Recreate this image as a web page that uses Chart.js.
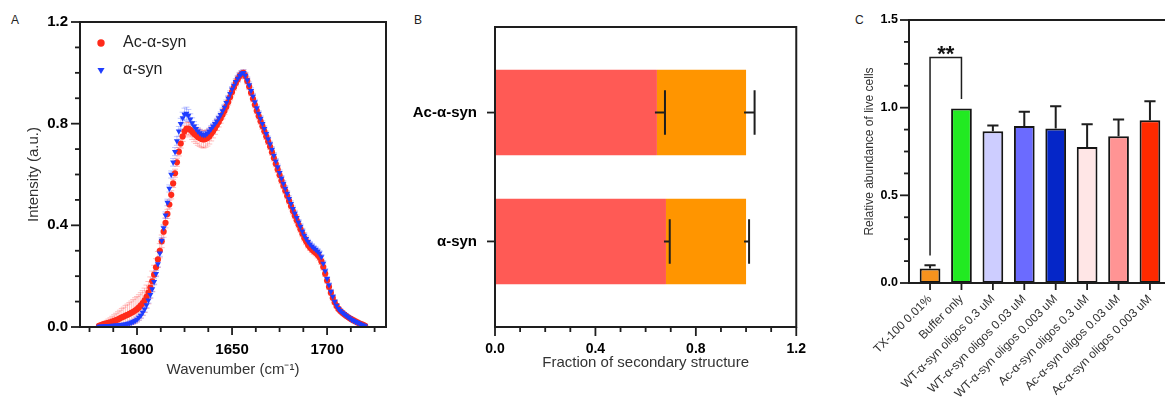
<!DOCTYPE html>
<html>
<head>
<meta charset="utf-8">
<script src="https://cdn.jsdelivr.net/npm/chart.js@4.4.1/dist/chart.umd.min.js"></script>
<style>
  html, body { margin: 0; padding: 0; background: #fff; overflow: hidden; }
  body { width: 1165px; height: 405px; position: relative; font-family: 'Liberation Sans', Arial, sans-serif; }
  .panel { position: absolute; top: 0; }
  .tag { position: absolute; top: 13px; font-size: 12px; color: #222; }
</style>
</head>
<body>
<div class="tag" style="left:11px">A</div>
<div class="tag" style="left:414px">B</div>
<div class="tag" style="left:855px">C</div>
<canvas id="chartA" class="panel" style="left:0" width="400" height="405"></canvas>
<canvas id="chartB" class="panel" style="left:400px" width="420" height="405"></canvas>
<canvas id="chartC" class="panel" style="left:820px" width="360" height="405"></canvas>
<script>
const FONT = "'Liberation Sans', Arial, Helvetica, sans-serif";
const INK = '#1e1e1e';

/* A - spectra, one point per cm-1 from 1580 to 1720 */
const wnStart = 1580;
const acSyn = [
  0.005,0.007,0.010,0.012,0.014,0.016,0.018,0.021,0.024,0.027,
  0.030,0.034,0.038,0.041,0.045,0.048,0.052,0.056,0.060,0.065,
  0.070,0.077,0.085,0.094,0.105,0.119,0.135,0.155,0.180,0.206,
  0.235,0.266,0.300,0.337,0.375,0.410,0.445,0.482,0.520,0.565,
  0.605,0.648,0.690,0.722,0.750,0.770,0.780,0.781,0.776,0.768,
  0.760,0.754,0.748,0.744,0.740,0.738,0.740,0.744,0.750,0.760,
  0.770,0.782,0.795,0.807,0.820,0.835,0.850,0.867,0.885,0.905,
  0.925,0.943,0.960,0.975,0.988,0.996,1.000,0.988,0.968,0.946,
  0.922,0.898,0.874,0.851,0.830,0.810,0.790,0.770,0.750,0.730,
  0.710,0.688,0.665,0.642,0.620,0.598,0.576,0.556,0.536,0.516,
  0.496,0.476,0.456,0.438,0.420,0.402,0.385,0.367,0.350,0.336,
  0.323,0.313,0.305,0.298,0.292,0.284,0.274,0.258,0.236,0.210,
  0.183,0.158,0.135,0.115,0.097,0.083,0.071,0.063,0.056,0.050,
  0.044,0.039,0.034,0.030,0.026,0.022,0.018,0.014,0.011,0.008,
  0.005
];
const acSynErr = [
  0.004,0.006,0.008,0.010,0.012,0.015,0.018,0.021,0.024,0.027,
  0.030,0.032,0.035,0.037,0.040,0.042,0.044,0.046,0.048,0.050,
  0.050,0.050,0.050,0.049,0.048,0.046,0.044,0.042,0.040,0.037,
  0.034,0.031,0.028,0.025,0.022,0.020,0.018,0.017,0.016,0.016,
  0.016,0.016,0.017,0.018,0.020,0.022,0.024,0.026,0.028,0.030,
  0.031,0.032,0.033,0.034,0.034,0.034,0.033,0.032,0.030,0.028,
  0.026,0.024,0.022,0.020,0.018,0.016,0.014,0.013,0.012,0.012,
  0.012,0.012,0.012,0.012,0.012,0.012,0.012,0.012,0.012,0.012,
  0.012,0.012,0.012,0.012,0.012,0.012,0.012,0.012,0.012,0.012,
  0.012,0.012,0.012,0.012,0.012,0.012,0.012,0.012,0.012,0.012,
  0.012,0.012,0.012,0.012,0.012,0.012,0.012,0.012,0.012,0.012,
  0.012,0.012,0.012,0.012,0.012,0.012,0.012,0.012,0.012,0.011,
  0.010,0.010,0.009,0.009,0.008,0.008,0.007,0.007,0.006,0.006,
  0.005,0.005,0.005,0.004,0.004,0.004,0.003,0.003,0.003,0.003,
  0.003
];
const aSyn = [
  0.002,0.003,0.003,0.004,0.004,0.005,0.005,0.006,0.006,0.007,
  0.007,0.008,0.009,0.010,0.011,0.013,0.015,0.018,0.021,0.025,
  0.030,0.037,0.045,0.057,0.070,0.087,0.105,0.127,0.150,0.178,
  0.210,0.248,0.290,0.340,0.390,0.440,0.490,0.545,0.600,0.648,
  0.690,0.732,0.770,0.800,0.822,0.836,0.840,0.832,0.817,0.803,
  0.790,0.780,0.770,0.763,0.758,0.755,0.756,0.762,0.770,0.780,
  0.790,0.800,0.810,0.822,0.835,0.850,0.865,0.882,0.900,0.918,
  0.935,0.950,0.965,0.978,0.990,0.997,1.000,0.990,0.972,0.952,
  0.930,0.908,0.885,0.862,0.840,0.820,0.800,0.780,0.760,0.740,
  0.720,0.698,0.675,0.652,0.630,0.607,0.585,0.565,0.545,0.525,
  0.505,0.485,0.465,0.448,0.430,0.412,0.395,0.377,0.360,0.347,
  0.335,0.326,0.318,0.311,0.305,0.298,0.290,0.275,0.250,0.220,
  0.190,0.165,0.140,0.120,0.100,0.085,0.072,0.064,0.057,0.051,
  0.045,0.039,0.034,0.029,0.025,0.021,0.018,0.014,0.010,0.007,
  0.004
];
const aSynErr = [
  0.003,0.003,0.003,0.003,0.004,0.004,0.004,0.004,0.005,0.005,
  0.005,0.005,0.006,0.006,0.006,0.007,0.007,0.008,0.008,0.009,
  0.009,0.010,0.010,0.010,0.011,0.011,0.011,0.012,0.012,0.012,
  0.012,0.012,0.012,0.012,0.012,0.013,0.013,0.014,0.014,0.015,
  0.016,0.017,0.019,0.021,0.023,0.025,0.025,0.024,0.022,0.020,
  0.018,0.016,0.014,0.013,0.012,0.012,0.012,0.012,0.012,0.012,
  0.011,0.011,0.011,0.011,0.011,0.011,0.011,0.011,0.011,0.011,
  0.011,0.011,0.012,0.012,0.012,0.012,0.012,0.012,0.012,0.012,
  0.011,0.011,0.011,0.011,0.011,0.011,0.011,0.011,0.011,0.011,
  0.011,0.011,0.011,0.011,0.011,0.011,0.011,0.011,0.011,0.011,
  0.011,0.011,0.011,0.011,0.011,0.011,0.011,0.011,0.011,0.011,
  0.010,0.010,0.010,0.010,0.010,0.010,0.010,0.010,0.010,0.010,
  0.009,0.009,0.008,0.008,0.007,0.007,0.006,0.006,0.005,0.005,
  0.004,0.004,0.004,0.004,0.003,0.003,0.003,0.003,0.003,0.003,
  0.003
];
const aXTicks = [1575, 1587.5, 1600, 1612.5, 1625, 1637.5, 1650, 1662.5, 1675, 1687.5, 1700, 1712.5, 1725];
const aXLabels = [1600, 1650, 1700];
const aYTicks = [0, 0.1, 0.2, 0.3, 0.4, 0.5, 0.6, 0.7, 0.8, 0.9, 1.0, 1.1, 1.2];
const aYLabels = [0, 0.4, 0.8, 1.2];

/* B - fraction of secondary structure */
const bCats = ['Ac-α-syn', 'α-syn'];
const bPart1 = [0.645, 0.681];
const bPart1Err = [0.032, 0.015];
const bPart2 = [0.355, 0.319];
const bPart2Err = [0.034, 0.012];
const bXTicks = [0, 0.1, 0.2, 0.3, 0.4, 0.5, 0.6, 0.7, 0.8, 0.9, 1.0, 1.1, 1.2];
const bXLabels = [0, 0.4, 0.8, 1.2];

/* C - cell viability */
const cLabels = ['TX-100 0.01%', 'Buffer only', 'WT-α-syn oligos 0.3 uM', 'WT-α-syn oligos 0.03 uM',
  'WT-α-syn oligos 0.003 uM', 'Ac-α-syn oligos 0.3 uM', 'Ac-α-syn oligos 0.03 uM', 'Ac-α-syn oligos 0.003 uM'];
const cMeans = [0.082, 0.995, 0.865, 0.896, 0.881, 0.776, 0.837, 0.928];
const cErr = [0.019, 0, 0.033, 0.080, 0.127, 0.129, 0.095, 0.108];
const cColors = ['#F7931E', '#22EA22', '#CDCDFF', '#6B6BFF', '#0526C8', '#FFE6E6', '#FF9494', '#FF2A00'];
const cYTicks = [0, 0.125, 0.25, 0.375, 0.5, 0.625, 0.75, 0.875, 1, 1.125, 1.25, 1.375, 1.5];
const cYLabels = [0, 0.5, 1, 1.5];
const cSig = { from: 0, to: 1, y: 1.286, leftEnd: 0.157, rightEnd: 1.05, text: '**' };

Chart.defaults.font.family = FONT;
Chart.defaults.color = INK;

/* shared helpers */
function tickMarks(axes) {
  return {
    id: 'tickMarks',
    afterDraw(chart) {
      const ctx = chart.ctx;
      ctx.save();
      ctx.strokeStyle = INK;
      ctx.lineWidth = 1.8;
      axes.forEach(a => {
        const s = chart.scales[a.id];
        s.ticks.forEach(t => {
          const len = a.major.includes(t.value) ? a.long : a.short;
          const p = s.getPixelForValue(t.value);
          ctx.beginPath();
          if (s.isHorizontal()) { ctx.moveTo(p, s.top); ctx.lineTo(p, s.top + len); }
          else { ctx.moveTo(s.right, p); ctx.lineTo(s.right - len, p); }
          ctx.stroke();
        });
      });
      ctx.restore();
    }
  };
}

function frame(sides) {
  return {
    id: 'frame',
    afterDraw(chart) {
      const { ctx, chartArea: a } = chart;
      ctx.save();
      ctx.strokeStyle = INK;
      ctx.lineWidth = 2;
      ctx.lineCap = 'square';
      ctx.beginPath();
      if (sides.includes('l')) { ctx.moveTo(a.left, a.top); ctx.lineTo(a.left, a.bottom); }
      if (sides.includes('b')) { ctx.moveTo(a.left, a.bottom); ctx.lineTo(a.right, a.bottom); }
      if (sides.includes('t')) { ctx.moveTo(a.left, a.top); ctx.lineTo(a.right, a.top); }
      if (sides.includes('r')) { ctx.moveTo(a.right, a.top); ctx.lineTo(a.right, a.bottom); }
      ctx.stroke();
      ctx.restore();
    }
  };
}

const baseOptions = {
  responsive: false,
  animation: false,
  devicePixelRatio: 1,
  events: [],
  plugins: { legend: { display: false }, tooltip: { enabled: false } }
};

/* ---------- A ---------- */
const RED = '#FF2A1A', BLUE = '#1F3DFF';
const spectrumErrors = {
  id: 'spectrumErrors',
  beforeDatasetsDraw(chart) {
    const { ctx, chartArea: a, scales: { x, y } } = chart;
    ctx.save();
    ctx.beginPath();
    ctx.rect(a.left, a.top, a.right - a.left, a.bottom - a.top);
    ctx.clip();
    [[acSyn, acSynErr, 'rgba(255,70,70,0.35)'], [aSyn, aSynErr, 'rgba(70,90,255,0.35)']].forEach(([vals, errs, col]) => {
      ctx.strokeStyle = col;
      ctx.lineWidth = 1;
      vals.forEach((v, i) => {
        const px = x.getPixelForValue(wnStart + i);
        const hi = y.getPixelForValue(v + errs[i]);
        const lo = y.getPixelForValue(v - errs[i]);
        ctx.beginPath();
        ctx.moveTo(px, hi); ctx.lineTo(px, lo);
        ctx.moveTo(px - 3, hi); ctx.lineTo(px + 3, hi);
        ctx.moveTo(px - 3, lo); ctx.lineTo(px + 3, lo);
        ctx.stroke();
      });
    });
    ctx.restore();
  }
};

const spectrumLegend = {
  id: 'spectrumLegend',
  afterDraw(chart) {
    const { ctx, chartArea: a } = chart;
    ctx.save();
    ctx.font = '16px ' + FONT;
    ctx.textBaseline = 'middle';
    chart.data.datasets.forEach((ds, i) => {
      const cy = a.top + 21 + i * 27;
      const cx = a.left + 21;
      ctx.fillStyle = ds.backgroundColor;
      Chart.helpers.drawPoint(ctx, { pointStyle: ds.pointStyle, rotation: ds.rotation || 0, radius: ds.pointRadius + 0.6, borderWidth: 0 }, cx, cy);
      ctx.fillStyle = '#222';
      ctx.fillText(ds.label, a.left + 43, cy);
    });
    ctx.restore();
  }
};

new Chart(document.getElementById('chartA'), {
  type: 'scatter',
  data: {
    datasets: [
      { label: 'Ac-α-syn', data: acSyn.map((v, i) => ({ x: wnStart + i, y: v })), pointStyle: 'circle',
        pointRadius: 3.1, backgroundColor: RED, borderWidth: 0, order: 2 },
      { label: 'α-syn', data: aSyn.map((v, i) => ({ x: wnStart + i, y: v })), pointStyle: 'triangle', rotation: 180,
        pointRadius: 3.5, backgroundColor: BLUE, borderWidth: 0, order: 1 }
    ]
  },
  options: {
    ...baseOptions,
    layout: { padding: { left: 0, top: 22, right: 14, bottom: 0 } },
    scales: {
      x: {
        type: 'linear', min: 1570, max: 1731,
        afterBuildTicks: s => { s.ticks = aXTicks.map(v => ({ value: v })); },
        afterFit: s => { s.height = 78; },
        grid: { display: false, drawTicks: false },
        border: { display: false },
        ticks: { padding: 14, color: '#000', font: { size: 15, weight: 'bold' }, maxRotation: 0, autoSkip: false,
          callback: v => aXLabels.includes(v) ? String(v) : '' },
        title: { display: true, text: 'Wavenumber (cm⁻¹)', color: '#333', font: { size: 15 }, padding: { top: 0, bottom: 26 } }
      },
      y: {
        type: 'linear', min: 0, max: 1.2,
        afterBuildTicks: s => { s.ticks = aYTicks.map(v => ({ value: v })); },
        afterFit: s => { s.width = 80; },
        grid: { display: false, drawTicks: false },
        border: { display: false },
        ticks: { padding: 12, color: '#000', font: { size: 15, weight: 'bold' }, autoSkip: false,
          callback: v => aYLabels.includes(v) ? v.toFixed(1) : '' },
        title: { display: true, text: 'Intensity (a.u.)', color: '#333', font: { size: 15 }, padding: { top: 25, bottom: 0 } }
      }
    }
  },
  plugins: [spectrumErrors, frame('lbtr'), tickMarks([
    { id: 'x', major: aXLabels, long: 8, short: 5 },
    { id: 'y', major: aYLabels, long: 9, short: 5 }
  ]), spectrumLegend]
});

/* ---------- B ---------- */
const structErrors = {
  id: 'structErrors',
  afterDatasetsDraw(chart) {
    const { ctx, scales: { x, y } } = chart;
    ctx.save();
    ctx.strokeStyle = INK;
    ctx.lineWidth = 2;
    bCats.forEach((c, i) => {
      const half = chart.getDatasetMeta(0).data[i].height * 0.26;
      const yc = y.getPixelForValue(i);
      [[bPart1[i], bPart1Err[i]], [bPart1[i] + bPart2[i], bPart2Err[i]]].forEach(([end, err]) => {
        const x0 = x.getPixelForValue(end), x1 = x.getPixelForValue(end + err);
        ctx.beginPath();
        ctx.moveTo(x0 - 2, yc); ctx.lineTo(x1, yc);
        ctx.moveTo(x1, yc - half); ctx.lineTo(x1, yc + half);
        ctx.stroke();
      });
    });
    ctx.restore();
  }
};

new Chart(document.getElementById('chartB'), {
  type: 'bar',
  data: {
    datasets: [
      { label: 'part 1', data: bPart1.map((v, i) => ({ x: v, y: i })), backgroundColor: '#FF5A55', borderWidth: 0 },
      { label: 'part 2', data: bPart2.map((v, i) => ({ x: v, y: i })), backgroundColor: '#FF9500', borderWidth: 0 }
    ]
  },
  options: {
    ...baseOptions,
    indexAxis: 'y',
    layout: { padding: { left: 0, top: 22, right: 20, bottom: 0 } },
    datasets: { bar: { barPercentage: 0.664, categoryPercentage: 1 } },
    scales: {
      x: {
        type: 'linear', min: 0, max: 1.2, stacked: true,
        afterBuildTicks: s => { s.ticks = bXTicks.map(v => ({ value: v })); },
        afterFit: s => { s.height = 78; },
        grid: { display: false, drawTicks: false },
        border: { display: false },
        ticks: { padding: 14, color: '#000', font: { size: 14, weight: 'bold' }, maxRotation: 0, autoSkip: false,
          callback: v => bXLabels.includes(v) ? v.toFixed(1) : '' },
        title: { display: true, text: 'Fraction of secondary structure', color: '#333', font: { size: 15 }, padding: { top: 0, bottom: 33 } }
      },
      y: {
        type: 'linear', min: -0.664, max: 1.664, reverse: true, offset: false, stacked: true,
        afterBuildTicks: s => { s.ticks = bCats.map((c, i) => ({ value: i })); },
        afterFit: s => { s.width = 95; },
        grid: { display: false, drawTicks: false, offset: false },
        border: { display: false },
        ticks: { padding: 18, color: '#000', font: { size: 15, weight: 'bold' }, autoSkip: false,
          callback: v => bCats[v] }
      }
    }
  },
  plugins: [structErrors, frame('lbtr'), tickMarks([
    { id: 'x', major: bXLabels, long: 9, short: 5 },
    { id: 'y', major: [0, 1], long: 8, short: 8 }
  ])]
});

/* ---------- C ---------- */
const viabilityErrors = {
  id: 'viabilityErrors',
  afterDatasetsDraw(chart) {
    const { ctx, scales: { x, y } } = chart;
    const bars = chart.getDatasetMeta(0).data;
    ctx.save();
    ctx.strokeStyle = INK;
    ctx.lineWidth = 2;
    cMeans.forEach((m, i) => {
      if (!cErr[i]) return;
      const px = x.getPixelForValue(i);
      const top = y.getPixelForValue(m + cErr[i]);
      const half = bars[i].width * 0.27;
      ctx.beginPath();
      ctx.moveTo(px, y.getPixelForValue(m)); ctx.lineTo(px, top);
      ctx.moveTo(px - half, top); ctx.lineTo(px + half, top);
      ctx.stroke();
    });
    // significance bracket
    const xl = x.getPixelForValue(cSig.from), xr = x.getPixelForValue(cSig.to);
    const yt = y.getPixelForValue(cSig.y);
    ctx.lineWidth = 1.5;
    ctx.beginPath();
    ctx.moveTo(xl, y.getPixelForValue(cSig.leftEnd));
    ctx.lineTo(xl, yt);
    ctx.lineTo(xr, yt);
    ctx.lineTo(xr, y.getPixelForValue(cSig.rightEnd));
    ctx.stroke();
    ctx.fillStyle = '#111';
    ctx.font = 'bold 22px ' + FONT;
    ctx.textAlign = 'center';
    ctx.textBaseline = 'alphabetic';
    ctx.fillText(cSig.text, (xl + xr) / 2, yt + 3);
    ctx.restore();
  }
};

new Chart(document.getElementById('chartC'), {
  type: 'bar',
  data: {
    datasets: [{
      label: 'viability',
      data: cMeans.map((v, i) => ({ x: i, y: v })),
      backgroundColor: cColors,
      borderColor: '#151515',
      borderWidth: 2,
      borderSkipped: false,
      barPercentage: 0.66,
      categoryPercentage: 1
    }]
  },
  options: {
    ...baseOptions,
    layout: { padding: { left: 0, top: 20, right: 9, bottom: 0 } },
    scales: {
      x: {
        type: 'linear', min: -0.67, max: 7.67, offset: false,
        afterBuildTicks: s => { s.ticks = cLabels.map((c, i) => ({ value: i })); },
        afterFit: s => { s.height = 122; },
        grid: { display: false, drawTicks: false, offset: false },
        border: { display: false },
        ticks: { padding: 9, color: '#333', font: { size: 12 }, minRotation: 45, maxRotation: 45, autoSkip: false,
          callback: v => cLabels[v] }
      },
      y: {
        type: 'linear', min: 0, max: 1.5,
        afterBuildTicks: s => { s.ticks = cYTicks.map(v => ({ value: v })); },
        afterFit: s => { s.width = 89; },
        grid: { display: false, drawTicks: false },
        border: { display: false },
        ticks: { padding: 11, color: '#000', font: { size: 12.5, weight: 'bold' }, autoSkip: false,
          callback: v => cYLabels.includes(v) ? v.toFixed(1) : '' },
        title: { display: true, text: 'Relative abundance of live cells', color: '#333', font: { size: 12 }, padding: { top: 42, bottom: 0 } }
      }
    }
  },
  plugins: [frame('lbt'), tickMarks([
    { id: 'x', major: [0, 1, 2, 3, 4, 5, 6, 7], long: 7, short: 7 },
    { id: 'y', major: cYLabels, long: 9, short: 5 }
  ]), viabilityErrors]
});
</script>
</body>
</html>
